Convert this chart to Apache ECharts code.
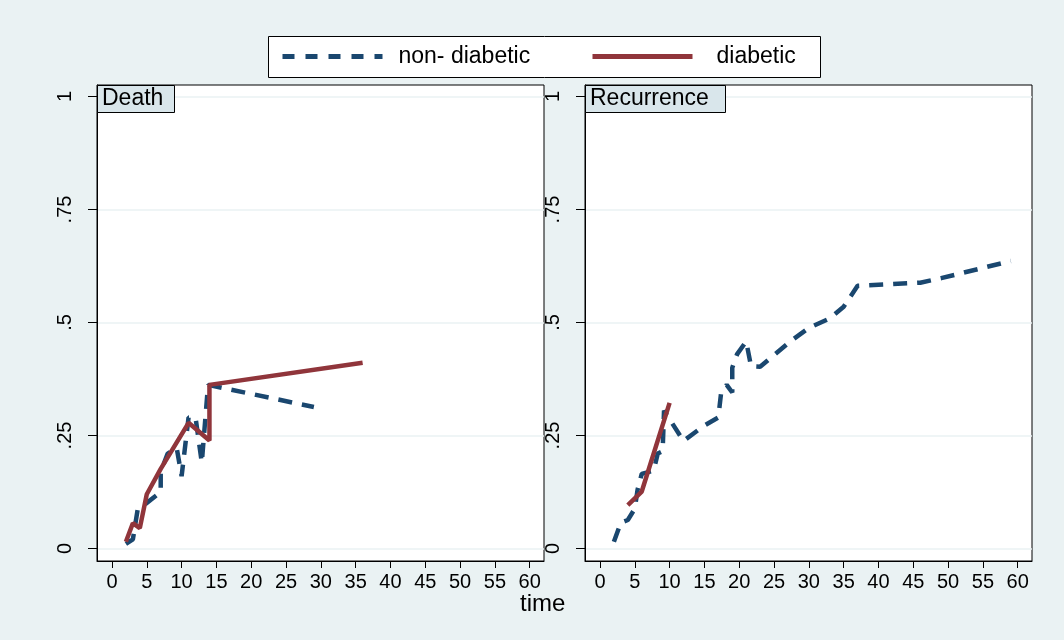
<!DOCTYPE html>
<html>
<head>
<meta charset="utf-8">
<script src="https://cdn.jsdelivr.net/npm/echarts@6/dist/echarts.min.js"></script>
<style>
html,body{margin:0;padding:0;background:#eaf2f3;}
#chart{width:1064px;height:640px;}
</style>
</head>
<body>
<div id="chart"></div>
<script>
// ---- data ----
const panelNames = ['Death', 'Recurrence'];
const seriesNames = ['non- diabetic', 'diabetic'];
const xTicks = [0, 5, 10, 15, 20, 25, 30, 35, 40, 45, 50, 55, 60];
const yTicks = [0, 0.25, 0.5, 0.75, 1];
const yTickLabels = ['0', '.25', '.5', '.75', '1'];
const xTitle = 'time';

// Death, non-diabetic
const deathNonTime  = [2, 3, 3.7, 4.6, 7, 7, 8, 9.3, 10, 11, 12, 12.9, 13.8, 29];
const deathNonValue = [0.010, 0.020, 0.087, 0.096, 0.125, 0.170, 0.210, 0.222, 0.160, 0.290, 0.290, 0.190, 0.362, 0.313];
// Death, diabetic
const deathDiaTime  = [2, 3, 4, 5, 7, 11, 14, 14, 36];
const deathDiaValue = [0.015, 0.056, 0.045, 0.120, 0.176, 0.278, 0.239, 0.362, 0.411];
// Recurrence, non-diabetic
const recNonTime  = [2, 3, 4, 5, 5.4, 6, 7.7, 8.3, 9, 9.2, 12, 15, 17, 17.4, 18.2, 19, 19, 19.7, 21, 21.7, 23, 27.5, 30, 33, 35, 37, 46, 49, 59];
const recNonValue = [0.015, 0.057, 0.063, 0.088, 0.130, 0.165, 0.172, 0.210, 0.215, 0.305, 0.238, 0.272, 0.290, 0.345, 0.362, 0.345, 0.400, 0.430, 0.458, 0.403, 0.402, 0.460, 0.488, 0.509, 0.535, 0.581, 0.588, 0.598, 0.636];
// Recurrence, diabetic
const recDiaTime  = [4, 6, 10];
const recDiaValue = [0.096, 0.126, 0.322];

// ---- styles ----
const FONT = '"Liberation Sans", Arial, Helvetica, sans-serif';
const BLUE = '#1a476f';
const RED = '#90353b';
const BG = '#eaf2f3';

function pairs(xs, ys) { return xs.map((x, i) => [x, ys[i]]); }

const gridLefts = [97, 585];
const grids = gridLefts.map(l => ({
  left: l, top: 85, width: 447, height: 476,
  show: true, backgroundColor: '#ffffff', borderColor: '#000000', borderWidth: 1,
  containLabel: false
}));

const xAxes = gridLefts.map((l, i) => ({
  type: 'value', gridIndex: i, min: -2.15, max: 62.05,
  axisLine: { show: true, onZero: false, lineStyle: { color: '#000', width: 1 } },
  axisTick: { show: true, customValues: xTicks, length: 7, lineStyle: { color: '#000', width: 1 } },
  axisLabel: { show: true, customValues: xTicks, margin: 11, color: '#000', fontSize: 20, fontFamily: FONT },
  splitLine: { show: false }
}));

const yAxes = gridLefts.map((l, i) => ({
  type: 'value', gridIndex: i, min: -0.0277, max: 1.0254,
  axisLine: { show: true, onZero: false, lineStyle: { color: '#000', width: 1 } },
  axisTick: { show: true, customValues: yTicks, length: 9, lineStyle: { color: '#000', width: 1 } },
  axisLabel: {
    show: true, customValues: yTicks, rotate: 90, margin: 22, color: '#000', fontSize: 20, fontFamily: FONT,
    formatter: v => { const k = yTicks.findIndex(t => Math.abs(t - v) < 1e-9); return k >= 0 ? yTickLabels[k] : ''; }
  },
  splitLine: { show: true, lineStyle: { color: BG, width: 1.5 } }
}));

const blueLine = { color: BLUE, width: 4.5, type: [14, 10] };
const redLine = { color: RED, width: 4.5, type: 'solid' };

const series = [
  { name: seriesNames[0], type: 'line', xAxisIndex: 0, yAxisIndex: 0, symbol: 'none', itemStyle: { color: BLUE }, lineStyle: blueLine, data: pairs(deathNonTime, deathNonValue), animation: false },
  { name: seriesNames[1], type: 'line', xAxisIndex: 0, yAxisIndex: 0, symbol: 'none', itemStyle: { color: RED }, lineStyle: redLine, data: pairs(deathDiaTime, deathDiaValue), animation: false },
  { name: seriesNames[0], type: 'line', xAxisIndex: 1, yAxisIndex: 1, symbol: 'none', itemStyle: { color: BLUE }, lineStyle: blueLine, data: pairs(recNonTime, recNonValue), animation: false },
  { name: seriesNames[1], type: 'line', xAxisIndex: 1, yAxisIndex: 1, symbol: 'none', itemStyle: { color: RED }, lineStyle: redLine, data: pairs(recDiaTime, recDiaValue), animation: false }
];

const legendCommon = {
  orient: 'horizontal', top: 45, padding: 0, itemWidth: 100, itemHeight: 14,
  itemStyle: { opacity: 0 }, selectedMode: false,
};
const legends = [
  Object.assign({}, legendCommon, { left: 280, data: [seriesNames[0]], lineStyle: { width: 5, type: [12, 11] }, textStyle: { fontSize: 23, color: '#000', fontFamily: FONT, padding: [0, 0, 0, 11] } }),
  Object.assign({}, legendCommon, { left: 590, data: [seriesNames[1]], lineStyle: { width: 5 }, textStyle: { fontSize: 23, color: '#000', fontFamily: FONT, padding: [0, 0, 0, 19] } })
];

const labelBoxes = [
  { x: 97, w: 77, text: panelNames[0] },
  { x: 585, w: 140, text: panelNames[1] }
];
const graphics = [
  { type: 'rect', left: 268, top: 36, z: 0, shape: { width: 552, height: 41 }, style: { fill: '#ffffff', stroke: '#000', lineWidth: 1 } }
];
labelBoxes.forEach(b => {
  graphics.push({ type: 'rect', left: b.x, top: 85, z: 100, shape: { width: b.w, height: 27 }, style: { fill: '#d9e6eb', stroke: '#000', lineWidth: 1 } });
  graphics.push({ type: 'text', left: b.x + 5, top: 87, z: 101, style: { text: b.text, fill: '#000', font: '23px ' + FONT } });
});

const chart = echarts.init(document.getElementById('chart'), null, { renderer: 'canvas' });
chart.setOption({
  backgroundColor: BG,
  animation: false,
  grid: grids,
  xAxis: xAxes,
  yAxis: yAxes,
  legend: legends,
  title: { text: xTitle, left: 520, top: 592, padding: 0, textStyle: { fontSize: 24, fontWeight: 'normal', color: '#000', fontFamily: FONT } },
  graphic: graphics,
  series: series
});
</script>
</body>
</html>
